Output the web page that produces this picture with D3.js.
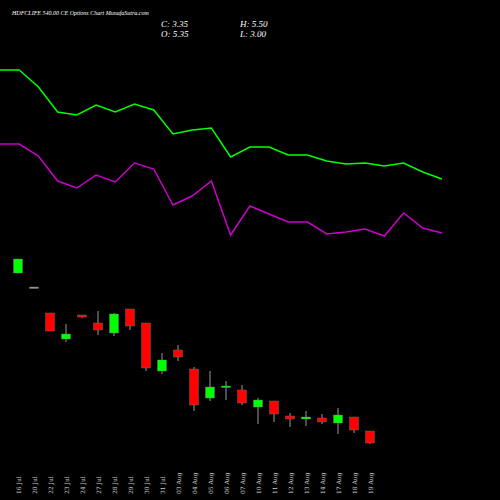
<!DOCTYPE html><html><head><meta charset="utf-8">
<script src="https://cdn.jsdelivr.net/npm/d3@7"></script>
<style>body{margin:0;background:#000}</style></head><body>
<svg id="c" width="500" height="500"></svg>
<script>
const dates=["16 Jul","20 Jul","22 Jul","23 Jul","24 Jul","27 Jul","28 Jul","29 Jul","30 Jul","31 Jul","03 Aug","04 Aug","05 Aug","06 Aug","07 Aug","10 Aug","11 Aug","12 Aug","13 Aug","14 Aug","17 Aug","18 Aug","19 Aug"];
// candle values in chart price units (higher = up)
const opens=[169,155,129,103,127,119,109,133,119,71,92,73,44,55,52,35,41,26,23,24,19,25,11];
const closes=[183,155,111,108,125,112,128,116,74,82,85,37,55,56,39,42,28,23,25,20,27,12,-1];
const highs=[183,155,129,118,127,131,129,133,119,89,97,75,71,61,57,44,41,29,31,28,34,25,11];
const lows=[169,155,111,100,124,107,106,112,71,68,81,31,41,42,37,18,20,15,16,18,8,9,-2];
const greenLine=[70,70,87,112,115,105,112,104,110,134,130,128,157,147,147,155,155,161,164,163,166,163,172,179];
const magentaLine=[144,144,156,181,188,175,182,163,169,205,196,181,235,206,214,222,222,234,232,229,236,213,228,233];
const svg=d3.select("#c");
svg.append("rect").attr("width",500).attr("height",500).attr("fill","#000");
const x=d3.scaleLinear().domain([0,dates.length-1]).range([18,370]);
const y=d3.scaleLinear().domain([0,100]).range([442,342]);
const xl=d3.scaleLinear().domain([0,greenLine.length-1]).range([0,442]);
const yl=d3.scaleLinear().domain([0,500]).range([0,500]);
const line=d3.line().x((d,i)=>xl(i)).y(d=>yl(d));
svg.append("path").attr("d",line(greenLine)).attr("fill","none").attr("stroke","#00ff00").attr("stroke-width",1.5);
svg.append("path").attr("d",line(magentaLine)).attr("fill","none").attr("stroke","#cc00cc").attr("stroke-width",1.5);
dates.forEach((d,i)=>{
  const up=closes[i]>opens[i], flat=closes[i]===opens[i];
  const col=flat?"#999":(up?"#00ff00":"#ff0000");
  svg.append("line").attr("x1",x(i)).attr("x2",x(i)).attr("y1",y(highs[i])).attr("y2",y(lows[i])).attr("stroke","#999").attr("stroke-width",1);
  const t=y(Math.max(opens[i],closes[i])), b=y(Math.min(opens[i],closes[i]));
  svg.append("rect").attr("x",x(i)-4.5).attr("width",9).attr("y",t).attr("height",Math.max(b-t,1.5)).attr("fill",col).attr("stroke","#777").attr("stroke-width",0.4);
  svg.append("text").attr("transform",`translate(${x(i)+3},${494}) rotate(-90)`).attr("fill","#ccc").attr("font-size",6).attr("font-family","DejaVu Serif").text(d);
});
svg.append("text").attr("x",12).attr("y",15).attr("fill","#fff").attr("font-size",6).attr("font-family","Liberation Serif").attr("font-style","italic").text("HDFCLIFE 540.00  CE Options  Chart MunafaSutra.com");
const st={fill:"#fff","font-size":9,"font-family":"Liberation Serif","font-style":"italic"};
[["C: 3.35",161,27],["O: 5.35",161,37],["H: 5.50",240,27],["L: 3.00",240,37]].forEach(a=>{
  const t=svg.append("text").attr("x",a[1]).attr("y",a[2]).text(a[0]);
  Object.entries(st).forEach(([k,v])=>t.attr(k,v));
});
</script></body></html>
